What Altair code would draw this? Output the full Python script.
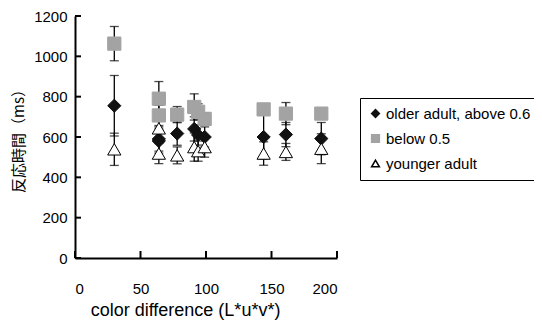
import altair as alt
import pandas as pd

# ---- data ----
x_vals = [30, 64, 64, 78, 91, 94, 99, 144, 161, 188]
series_names = ["older adult, above 0.6", "below 0.5", "younger adult"]
older = [755, 590, 580, 617, 640, 610, 600, 600, 612, 592]
older_err = [150, 60, 60, 58, 60, 50, 50, 110, 60, 80]
below = [1063, 790, 707, 711, 749, 725, 690, 737, 716, 716]
below_err = [85, 85, 50, 40, 65, 40, 30, 25, 55, 25]
younger = [539, 643, 518, 509, 550, 530, 550, 518, 526, 542]
younger_err = [80, 60, 50, 42, 70, 50, 50, 58, 42, 74]
x_ticks = [0, 50, 100, 150, 200]
y_ticks = [0, 200, 400, 600, 800, 1000, 1200]

X_TITLE = "color difference (L*u*v*)"
Y_TITLE = "反応時間（ms）"

# draw order: squares, diamonds, triangles on top
draw_order = {"below 0.5": 0, "older adult, above 0.6": 1, "younger adult": 2}

rows = []
for name, vals, errs in [
    (series_names[0], older, older_err),
    (series_names[1], below, below_err),
    (series_names[2], younger, younger_err),
]:
    for xv, v, e in zip(x_vals, vals, errs):
        rows.append({"x": xv, "y": v, "lo": v - e, "hi": v + e,
                     "series": name, "ord": draw_order[name]})
df = pd.DataFrame(rows)

caps = pd.concat([
    df[["x", "lo"]].rename(columns={"lo": "y"}),
    df[["x", "hi"]].rename(columns={"hi": "y"}),
])

W, H = 262, 242
xs = alt.Scale(domain=[0, 200], nice=False)
ys = alt.Scale(domain=[0, 1200], nice=False)

x_axis = alt.Axis(values=x_ticks, format="d", labelPadding=23, titlePadding=5,
                  titleX=110, titleFontSize=18)
y_axis = alt.Axis(values=y_ticks, format="d", labelPadding=8, titlePadding=7)

err_rules = alt.Chart(df).mark_rule(color="black", strokeWidth=1.3).encode(
    x=alt.X("x:Q", scale=xs, axis=x_axis, title=X_TITLE),
    y=alt.Y("lo:Q", scale=ys, axis=y_axis, title=Y_TITLE),
    y2="hi:Q",
)

err_caps = alt.Chart(caps).mark_tick(
    orient="horizontal", color="black", size=9, thickness=1.3
).encode(
    x=alt.X("x:Q", scale=xs, title=X_TITLE),
    y=alt.Y("y:Q", scale=ys, title=Y_TITLE),
)

points = alt.Chart(df).mark_point(filled=True, size=175, opacity=1, strokeWidth=1).encode(
    x=alt.X("x:Q", scale=xs, title=X_TITLE),
    y=alt.Y("y:Q", scale=ys, title=Y_TITLE),
    shape=alt.Shape("series:N", scale=alt.Scale(domain=series_names,
                    range=["diamond", "square", "triangle-up"]), title=None),
    fill=alt.Fill("series:N", scale=alt.Scale(domain=series_names,
                  range=["#111111", "#a3a3a3", "white"]), title=None),
    stroke=alt.Stroke("series:N", scale=alt.Scale(domain=series_names,
                      range=["#111111", "#a3a3a3", "black"]), title=None),
    order=alt.Order("ord:Q"),
)

ytick_df = pd.DataFrame({"y": y_ticks})
xtick_df = pd.DataFrame({"x": x_ticks})

y_tick_marks = alt.Chart(ytick_df).mark_rule(color="black", strokeWidth=2).encode(
    y=alt.Y("y:Q", scale=ys, title=Y_TITLE),
    x=alt.value(0), x2=alt.value(6),
)
x_tick_marks = alt.Chart(xtick_df).mark_rule(color="black", strokeWidth=2).encode(
    x=alt.X("x:Q", scale=xs, title=X_TITLE),
    y=alt.value(H), y2=alt.value(H - 7),
)

chart = alt.layer(err_rules, err_caps, y_tick_marks, x_tick_marks, points).properties(
    width=W, height=H,
    autosize=alt.AutoSizeParams(type="none"),
    padding={"left": 67, "top": 8, "right": 197, "bottom": 64},
).configure_view(stroke=None).configure_axis(
    grid=False, ticks=False,
    domainColor="black", domainWidth=2,
    labelFont="Liberation Sans", labelFontSize=15, labelColor="black",
    titleFont="Liberation Sans", titleFontSize=15, titleFontWeight="normal",
    titleColor="black",
).configure_axisY(
    titleFont="Noto Sans CJK JP",
).configure_legend(
    orient="none", legendX=285, legendY=82,
    strokeColor="black", strokeWidth=1, padding=8,
    labelFont="Liberation Sans", labelFontSize=15, labelColor="black",
    symbolSize=60, rowPadding=9, labelOffset=3, fillColor="white",
)

chart.save("out.html", embed_options={"renderer": "svg", "actions": False})
